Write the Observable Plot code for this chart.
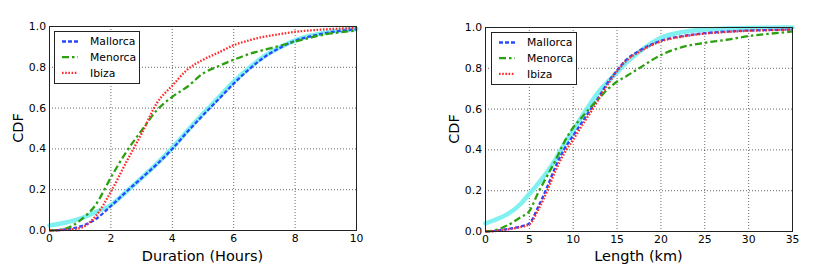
<!DOCTYPE html>
<html><head><meta charset="utf-8">
<script src="https://cdn.jsdelivr.net/npm/d3@7"></script>
<script src="https://cdn.jsdelivr.net/npm/@observablehq/plot@0.6"></script>
<style>
body{margin:0;background:#fff;}
#wrap{position:relative;width:831px;height:264px;overflow:hidden;font-family:"DejaVu Sans",sans-serif;}
.panel{position:absolute;top:0;}
.title{position:absolute;font-size:14.5px;color:#000;white-space:nowrap;transform:translate(-50%,-50%);line-height:1;}
.ytitle{transform:translate(-50%,-50%) rotate(-90deg);}
.legend{position:absolute;}
</style></head><body><div id="wrap"></div>
<script>
// ---- series names / styles ----
const seriesNames = ["Mallorca", "Menorca", "Ibiza"];
const seriesColors = ["#2a48ff", "#2ca010", "#ff2a2a"];
const seriesDash = ["4,2", "7,3,2.5,3", "1.6,1.6"];
const fitColor = "#80f0f0";

// ---- left panel: Duration (Hours) ----
const durX        = [0, 0.5, 1, 1.5, 2, 2.5, 3, 3.5, 4, 4.5, 5, 5.5, 6, 6.5, 7, 7.5, 8, 8.5, 9, 9.5, 10];
const durMallorca = [0, 0.005, 0.02, 0.055, 0.12, 0.19, 0.257, 0.325, 0.40, 0.485, 0.565, 0.642, 0.72, 0.79, 0.85, 0.895, 0.93, 0.952, 0.968, 0.979, 0.986];
const durMenorca  = [0, 0.008, 0.05, 0.125, 0.26, 0.385, 0.49, 0.59, 0.655, 0.706, 0.77, 0.805, 0.837, 0.865, 0.886, 0.905, 0.926, 0.945, 0.962, 0.972, 0.98];
const durIbiza    = [0, 0.003, 0.012, 0.07, 0.19, 0.335, 0.475, 0.625, 0.71, 0.79, 0.837, 0.872, 0.908, 0.932, 0.95, 0.963, 0.974, 0.981, 0.986, 0.99, 0.992];
const durFit      = [0.025, 0.038, 0.058, 0.09, 0.125, 0.19, 0.258, 0.328, 0.405, 0.49, 0.572, 0.65, 0.73, 0.797, 0.855, 0.897, 0.932, 0.955, 0.97, 0.981, 0.988];
const durTicks = [0, 2, 4, 6, 8, 10];

// ---- right panel: Length (km) ----
const lenX        = [0, 1, 2.5, 4, 5, 6, 7, 8, 9, 10, 11, 12, 13, 14, 15, 16, 17.5, 20, 22.5, 25, 27.5, 30, 32.5, 35];
const lenMallorca = [0, 0.003, 0.012, 0.025, 0.04, 0.12, 0.215, 0.32, 0.405, 0.47, 0.535, 0.60, 0.665, 0.735, 0.79, 0.84, 0.885, 0.935, 0.958, 0.972, 0.98, 0.985, 0.988, 0.99];
const lenMenorca  = [0, 0.005, 0.03, 0.07, 0.10, 0.19, 0.27, 0.35, 0.44, 0.51, 0.56, 0.61, 0.655, 0.70, 0.735, 0.76, 0.80, 0.865, 0.905, 0.925, 0.94, 0.958, 0.97, 0.98];
const lenIbiza    = [0, 0.002, 0.01, 0.022, 0.035, 0.105, 0.195, 0.30, 0.385, 0.45, 0.52, 0.585, 0.655, 0.725, 0.785, 0.835, 0.88, 0.932, 0.956, 0.97, 0.978, 0.984, 0.987, 0.99];
const lenFit      = [0.04, 0.055, 0.085, 0.135, 0.185, 0.235, 0.29, 0.355, 0.43, 0.495, 0.565, 0.63, 0.69, 0.737, 0.78, 0.825, 0.88, 0.95, 0.978, 0.99, 0.995, 0.998, 0.999, 1.0];
const lenTicks = [0, 5, 10, 15, 20, 25, 30, 35];

const cdfTicks = [0, 0.2, 0.4, 0.6, 0.8, 1.0];
const yTitle = "CDF";
const xTitles = ["Duration (Hours)", "Length (km)"];

function rows(xs, ys) { return xs.map((x, i) => ({x, y: ys[i]})); }

function panel(cfg) {
  const {xs, series, fit, xDomain, xTicks, left, width, ml, mr, mt, mb, xTitle, legendPos} = cfg;
  const marks = [
    Plot.gridX(xTicks, {stroke: "#000", strokeOpacity: 0.75, strokeDasharray: "1,2", strokeWidth: 0.8}),
    Plot.gridY(cdfTicks, {stroke: "#000", strokeOpacity: 0.75, strokeDasharray: "1,2", strokeWidth: 0.8}),
    Plot.line(rows(xs, fit), {x: "x", y: "y", stroke: fitColor, strokeWidth: 4.5, curve: "monotone-x"})
  ];
  series.forEach((ys, i) => {
    marks.push(Plot.line(rows(xs, ys), {x: "x", y: "y", stroke: seriesColors[i], strokeWidth: 2.3,
      strokeDasharray: seriesDash[i], strokeLinecap: "butt", strokeLinejoin: "miter", curve: "monotone-x"}));
  });
  marks.push(
    Plot.axisX(xTicks, {tickSize: 0, tickPadding: 4, tickFormat: d3.format("d"), label: null, fontSize: 10.8}),
    Plot.axisY(cdfTicks, {tickSize: 0, tickPadding: 3.5, tickFormat: d3.format(".1f"), label: null, fontSize: 10.8}),
    Plot.frame({stroke: "#222", strokeWidth: 1})
  );
  const chart = Plot.plot({
    width, height: 264,
    marginLeft: ml, marginRight: mr, marginTop: mt, marginBottom: mb,
    x: {domain: xDomain},
    y: {domain: [0, 1]},
    style: {fontFamily: "DejaVu Sans", fontSize: "10.8px", color: "#000", background: "transparent", overflow: "visible"},
    marks
  });
  const wrap = document.getElementById("wrap");
  const div = document.createElement("div");
  div.className = "panel";
  div.style.left = left + "px";
  div.appendChild(chart);
  wrap.appendChild(div);

  // axis titles
  const fx = left + ml + (width - ml - mr) / 2;
  const xt = document.createElement("div");
  xt.className = "title";
  xt.textContent = xTitle;
  xt.style.left = fx + "px";
  xt.style.top = "256px";
  wrap.appendChild(xt);
  const yt = document.createElement("div");
  yt.className = "title ytitle";
  yt.textContent = yTitle;
  yt.style.left = (left + ml - 31.5) + "px";
  yt.style.top = (mt + (264 - mt - mb) / 2) + "px";
  wrap.appendChild(yt);

  // legend
  const lw = 85, lh = 52;
  const svg = d3.create("svg").attr("class", "legend").attr("width", lw + 1).attr("height", lh + 1)
    .style("left", legendPos[0] + "px").style("top", legendPos[1] + "px");
  svg.append("rect").attr("x", 0.5).attr("y", 0.5).attr("width", lw).attr("height", lh)
    .attr("fill", "#fff").attr("stroke", "#222").attr("stroke-width", 1);
  seriesNames.forEach((name, i) => {
    const cy = 10.5 + i * 15.7;
    svg.append("line").attr("x1", 8).attr("x2", 24).attr("y1", cy).attr("y2", cy)
      .attr("stroke", seriesColors[i]).attr("stroke-width", 2.3).attr("stroke-dasharray", seriesDash[i]);
    svg.append("text").attr("x", 36).attr("y", cy).attr("dy", "0.35em")
      .attr("font-family", "DejaVu Sans").attr("font-size", 10.8).attr("fill", "#000").text(name);
  });
  wrap.appendChild(svg.node());
}

panel({xs: durX, series: [durMallorca, durMenorca, durIbiza], fit: durFit, xDomain: [0, 10], xTicks: durTicks,
  left: 0, width: 415, ml: 49, mr: 59, mt: 26, mb: 34, xTitle: xTitles[0], legendPos: [54, 31]});
panel({xs: lenX, series: [lenMallorca, lenMenorca, lenIbiza], fit: lenFit, xDomain: [0, 35], xTicks: lenTicks,
  left: 415, width: 416, ml: 70, mr: 39, mt: 27, mb: 33, xTitle: xTitles[1], legendPos: [491, 32]});
</script>
</body></html>
